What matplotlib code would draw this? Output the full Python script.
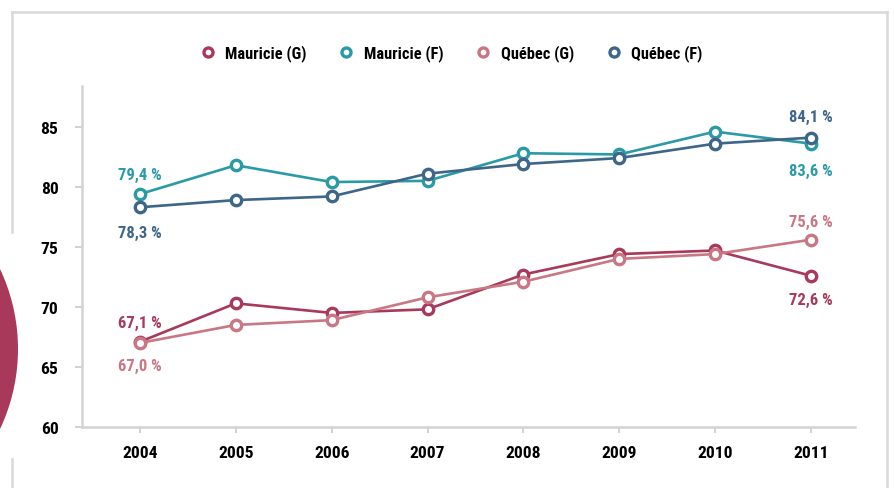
import matplotlib.pyplot as plt
from matplotlib.lines import Line2D
from matplotlib.patches import Circle

plt.rcParams['font.family'] = ['Liberation Sans Narrow', 'Roboto Condensed', 'Noto Sans Condensed',
                               'Open Sans Condensed', 'Roboto', 'DejaVu Sans']
plt.rcParams['font.stretch'] = 'condensed'
plt.rcParams['font.weight'] = 'bold'

years = [2004, 2005, 2006, 2007, 2008, 2009, 2010, 2011]
mauricie_g = [67.1, 70.3, 69.5, 69.8, 72.7, 74.4, 74.7, 72.6]
mauricie_f = [79.4, 81.8, 80.4, 80.5, 82.8, 82.7, 84.6, 83.6]
quebec_g = [67.0, 68.5, 68.9, 70.8, 72.1, 74.0, 74.4, 75.6]
quebec_f = [78.3, 78.9, 79.2, 81.1, 81.9, 82.4, 83.6, 84.1]
labels = ["Mauricie (G)", "Mauricie (F)", "Québec (G)", "Québec (F)"]
colors = ["#a8395a", "#2a9ba6", "#c97784", "#3d6688"]
yticks = [60, 65, 70, 75, 80, 85]

fig = plt.figure(figsize=(8.95, 4.89), dpi=100)
ax = fig.add_axes([82 / 895, 1 - 428 / 489, (855 - 82) / 895, (428 - 87) / 489])

series = [mauricie_g, mauricie_f, quebec_g, quebec_f]
for vals, lab, c in zip(series, labels, colors):
    ax.plot(years, vals, color=c, lw=1.9, marker='o', ms=7.5, mfc='white',
            mec=c, mew=2.4, label=lab, solid_capstyle='round')

# end labels
def pct(v):
    return f"{v:.1f}".replace('.', ',') + " %"

ends = [
    (years[0], mauricie_f[0], colors[1], 14),
    (years[0], quebec_f[0], colors[3], -18),
    (years[0], mauricie_g[0], colors[0], 14),
    (years[0], quebec_g[0], colors[2], -16),
    (years[-1], quebec_f[-1], colors[3], 15),
    (years[-1], mauricie_f[-1], colors[1], -19),
    (years[-1], quebec_g[-1], colors[2], 13),
    (years[-1], mauricie_g[-1], colors[0], -17),
]
for x, v, c, dy in ends:
    ax.annotate(pct(v), (x, v), xytext=(0, dy), textcoords='offset points',
                ha='center', va='center', color=c, fontsize=12, fontweight='bold')

ax.set_xlim(2003.395, 2011.46)
ax.set_ylim(60, 88.4)
ax.set_xticks(years)
ax.set_yticks(yticks)
for s in ['top', 'right']:
    ax.spines[s].set_visible(False)
for s in ['left', 'bottom']:
    ax.spines[s].set_color('#d3d3d3')
    ax.spines[s].set_linewidth(1.8)
ax.tick_params(axis='y', length=5, width=1.5, color='#d3d3d3', pad=12, labelsize=12.6)
ax.tick_params(axis='x', length=4, width=1.5, color='#d3d3d3', pad=9, labelsize=12.6)

fig.legend(loc='center', bbox_to_anchor=(0.503, 1 - 54 / 489), ncol=4, frameon=False,
           handlelength=1.2, columnspacing=1.85, handletextpad=0.45,
           prop={'weight': 'bold', 'size': 11.8, 'stretch': 'condensed'})
for h in fig.legends[0].legend_handles:
    h.set_linestyle('none')
    h.set_markersize(6.5)

# frame around the chart
fc = '#d9d9d9'
fig.add_artist(Line2D([12 / 895, 887 / 895], [1 - 13 / 489] * 2, color=fc, lw=1.8))
fig.add_artist(Line2D([887 / 895] * 2, [1 - 13 / 489, 0], color=fc, lw=1.8))
fig.add_artist(Line2D([12 / 895] * 2, [1 - 13 / 489, 1 - 233 / 489], color=fc, lw=1.8))
fig.add_artist(Line2D([12 / 895] * 2, [1 - 460 / 489, 0], color=fc, lw=1.8))

fig.add_artist(Circle((-1.69, 1.39), 1.87, transform=fig.dpi_scale_trans,
                      color='#a8395a', lw=0))

fig.savefig('out.png', dpi=100)
